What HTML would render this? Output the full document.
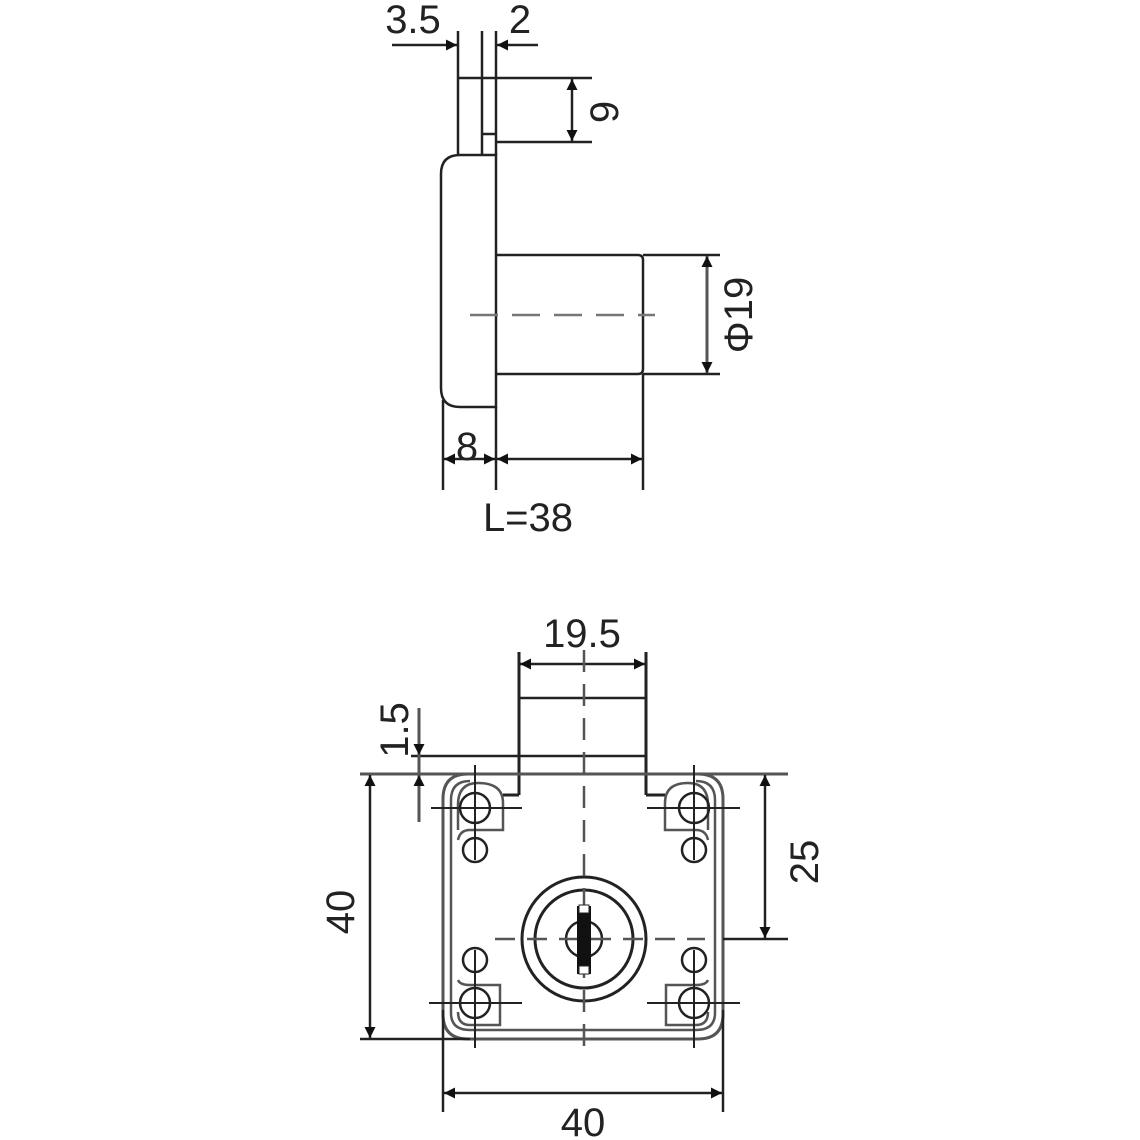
<!DOCTYPE html>
<html><head><meta charset="utf-8"><style>
html,body{margin:0;padding:0;background:#fff;}
svg{display:block;}
text{font-family:"Liberation Sans",Arial,sans-serif;font-size:40px;fill:#222;}
</style></head><body>
<svg width="1140" height="1140" viewBox="0 0 1140 1140" xmlns="http://www.w3.org/2000/svg">
<defs>
<marker id="a" viewBox="0 0 10 10" refX="10" refY="5" markerWidth="13" markerHeight="11" orient="auto-start-reverse" markerUnits="userSpaceOnUse">
<path d="M0,0 L10,5 L0,10 z" fill="#111"/></marker>
</defs>
<g fill="none" stroke="#222" stroke-width="2.5">
<!-- TOP VIEW -->
<line x1="458" y1="31" x2="458" y2="155"/>
<line x1="482" y1="31" x2="482" y2="155"/>
<line x1="496" y1="31" x2="496" y2="155"/>
<line x1="392" y1="45" x2="457" y2="45" marker-end="url(#a)"/>
<line x1="538" y1="45" x2="497" y2="45" marker-end="url(#a)"/>
<line x1="458" y1="78" x2="592" y2="78"/>
<line x1="496" y1="142" x2="592" y2="142"/>
<line x1="482" y1="134" x2="496" y2="134"/>
<line x1="572" y1="79" x2="572" y2="141" marker-start="url(#a)" marker-end="url(#a)"/>
<path d="M458,155 L496,155 L496,407 L460,407 Q441,407 441,388 L441,174 Q441,155 460,155 Z" stroke-width="2.5"/>
<path d="M496,255 L638,255 Q643,255 643,260 L643,369 Q643,374 638,374 L496,374" stroke-width="2.5"/>
<line x1="470" y1="315" x2="655" y2="315" stroke="#777" stroke-dasharray="28,14"/>
<line x1="643" y1="255" x2="720" y2="255"/>
<line x1="643" y1="374" x2="720" y2="374"/>
<line x1="707" y1="256" x2="707" y2="373" marker-start="url(#a)" marker-end="url(#a)" stroke="#555" stroke-width="3"/>
<line x1="443" y1="400" x2="443" y2="490"/>
<line x1="496" y1="407" x2="496" y2="490"/>
<line x1="643" y1="374" x2="643" y2="490"/>
<line x1="444" y1="459" x2="495" y2="459" marker-start="url(#a)" marker-end="url(#a)"/>
<line x1="497" y1="459" x2="642" y2="459" marker-start="url(#a)" marker-end="url(#a)"/>

<!-- BOTTOM VIEW -->
<line x1="519" y1="652" x2="519" y2="795" stroke-width="3"/>
<line x1="646" y1="652" x2="646" y2="795" stroke-width="3"/>
<line x1="520" y1="664" x2="645" y2="664" marker-start="url(#a)" marker-end="url(#a)"/>
<line x1="519" y1="698" x2="646" y2="698"/>
<line x1="411" y1="756" x2="646" y2="756"/>
<line x1="360" y1="774" x2="788" y2="774" stroke="#555" stroke-width="3"/>
<line x1="419" y1="708" x2="419" y2="822" stroke="#555" stroke-width="3"/>
<line x1="419" y1="740" x2="419" y2="755" marker-end="url(#a)" stroke="#555"/>
<line x1="419" y1="790" x2="419" y2="775" marker-end="url(#a)" stroke="#555"/>
<path d="M519,795 L503,795 M646,795 L665,795" stroke-width="3"/>
<!-- body outer -->
<path d="M468,774 L698,774 Q723,774 723,799 L723,1014 Q723,1039 698,1039 L468,1039 Q443,1039 443,1014 L443,799 Q443,774 468,774 Z" stroke="#555" stroke-width="3"/>
<path d="M470,781 Q451,781 451,800 L451,1013 Q451,1030 470,1030 L696,1030 Q715,1030 715,1013 L715,800 Q715,781 696,781" stroke="#555" stroke-width="2.5"/>
<!-- pads -->
<path d="M458,830 L458,805 Q458,783 478,783 Q503,783 503,803 L503,830 L470,830 Q460,830 458,840" stroke="#555"/>
<path d="M708,830 L708,805 Q708,783 688,783 Q665,783 665,803 L665,830 L696,830 Q706,830 708,840" stroke="#555"/>
<path d="M458,980 Q460,985 470,985 L500,985 L500,1025 L470,1025 Q458,1025 458,1012" stroke="#555"/>
<path d="M708,980 Q706,985 696,985 L666,985 L666,1025 L696,1025 Q708,1025 708,1012" stroke="#555"/>
<!-- holes -->
<circle cx="475" cy="808" r="15"/><circle cx="475" cy="850" r="12"/>
<circle cx="694" cy="808" r="15"/><circle cx="694" cy="850" r="12"/>
<circle cx="475" cy="1003" r="15"/><circle cx="475" cy="960" r="12"/>
<circle cx="694" cy="1003" r="15"/><circle cx="694" cy="960" r="12"/>
<g stroke-width="2">
<line x1="431" y1="808" x2="522" y2="808"/><line x1="475" y1="765" x2="475" y2="860"/>
<line x1="647" y1="808" x2="740" y2="808"/><line x1="694" y1="765" x2="694" y2="860"/>
<line x1="429" y1="1003" x2="522" y2="1003"/><line x1="475" y1="950" x2="475" y2="1048"/>
<line x1="647" y1="1003" x2="740" y2="1003"/><line x1="694" y1="950" x2="694" y2="1048"/>
</g>
<!-- key cylinder -->
<circle cx="584" cy="939" r="62" stroke-width="3"/>
<circle cx="584" cy="939" r="49" stroke-width="3"/>
<circle cx="584" cy="939" r="18"/>
<line x1="584" y1="650" x2="584" y2="1050" stroke="#555" stroke-dasharray="22,12"/>
<line x1="495" y1="939" x2="705" y2="939" stroke="#555" stroke-dasharray="20,12"/>
<!-- dims -->
<line x1="370" y1="775" x2="370" y2="1038" marker-start="url(#a)" marker-end="url(#a)"/>
<line x1="360" y1="1039" x2="470" y2="1039"/>
<line x1="723" y1="939" x2="788" y2="939"/>
<line x1="765" y1="775" x2="765" y2="938" marker-start="url(#a)" marker-end="url(#a)"/>
<line x1="443" y1="1010" x2="443" y2="1112"/>
<line x1="723" y1="1010" x2="723" y2="1112"/>
<line x1="444" y1="1093" x2="722" y2="1093" marker-start="url(#a)" marker-end="url(#a)"/>
</g>
<rect x="577" y="906" width="14" height="68" fill="#111"/>
<rect x="579" y="905" width="10" height="8" fill="#fff" stroke="#222" stroke-width="1"/>
<rect x="579" y="966" width="10" height="8" fill="#fff" stroke="#222" stroke-width="1"/>
<!-- labels -->
<text x="413" y="33" text-anchor="middle">3.5</text>
<text x="520" y="33" text-anchor="middle">2</text>
<text transform="translate(604,112) rotate(-90)" text-anchor="middle" dy="14">9</text>
<text transform="translate(738,315) rotate(-90)" text-anchor="middle" dy="14">Φ19</text>
<text x="467" y="460" text-anchor="middle">8</text>
<text x="528" y="531" text-anchor="middle">L=38</text>
<text x="582" y="647" text-anchor="middle">19.5</text>
<text transform="translate(394,730) rotate(-90)" text-anchor="middle" dy="14">1.5</text>
<text transform="translate(340,912) rotate(-90)" text-anchor="middle" dy="14">40</text>
<text transform="translate(804,862) rotate(-90)" text-anchor="middle" dy="14">25</text>
<text x="583" y="1136" text-anchor="middle">40</text>
</svg>
</body></html>
